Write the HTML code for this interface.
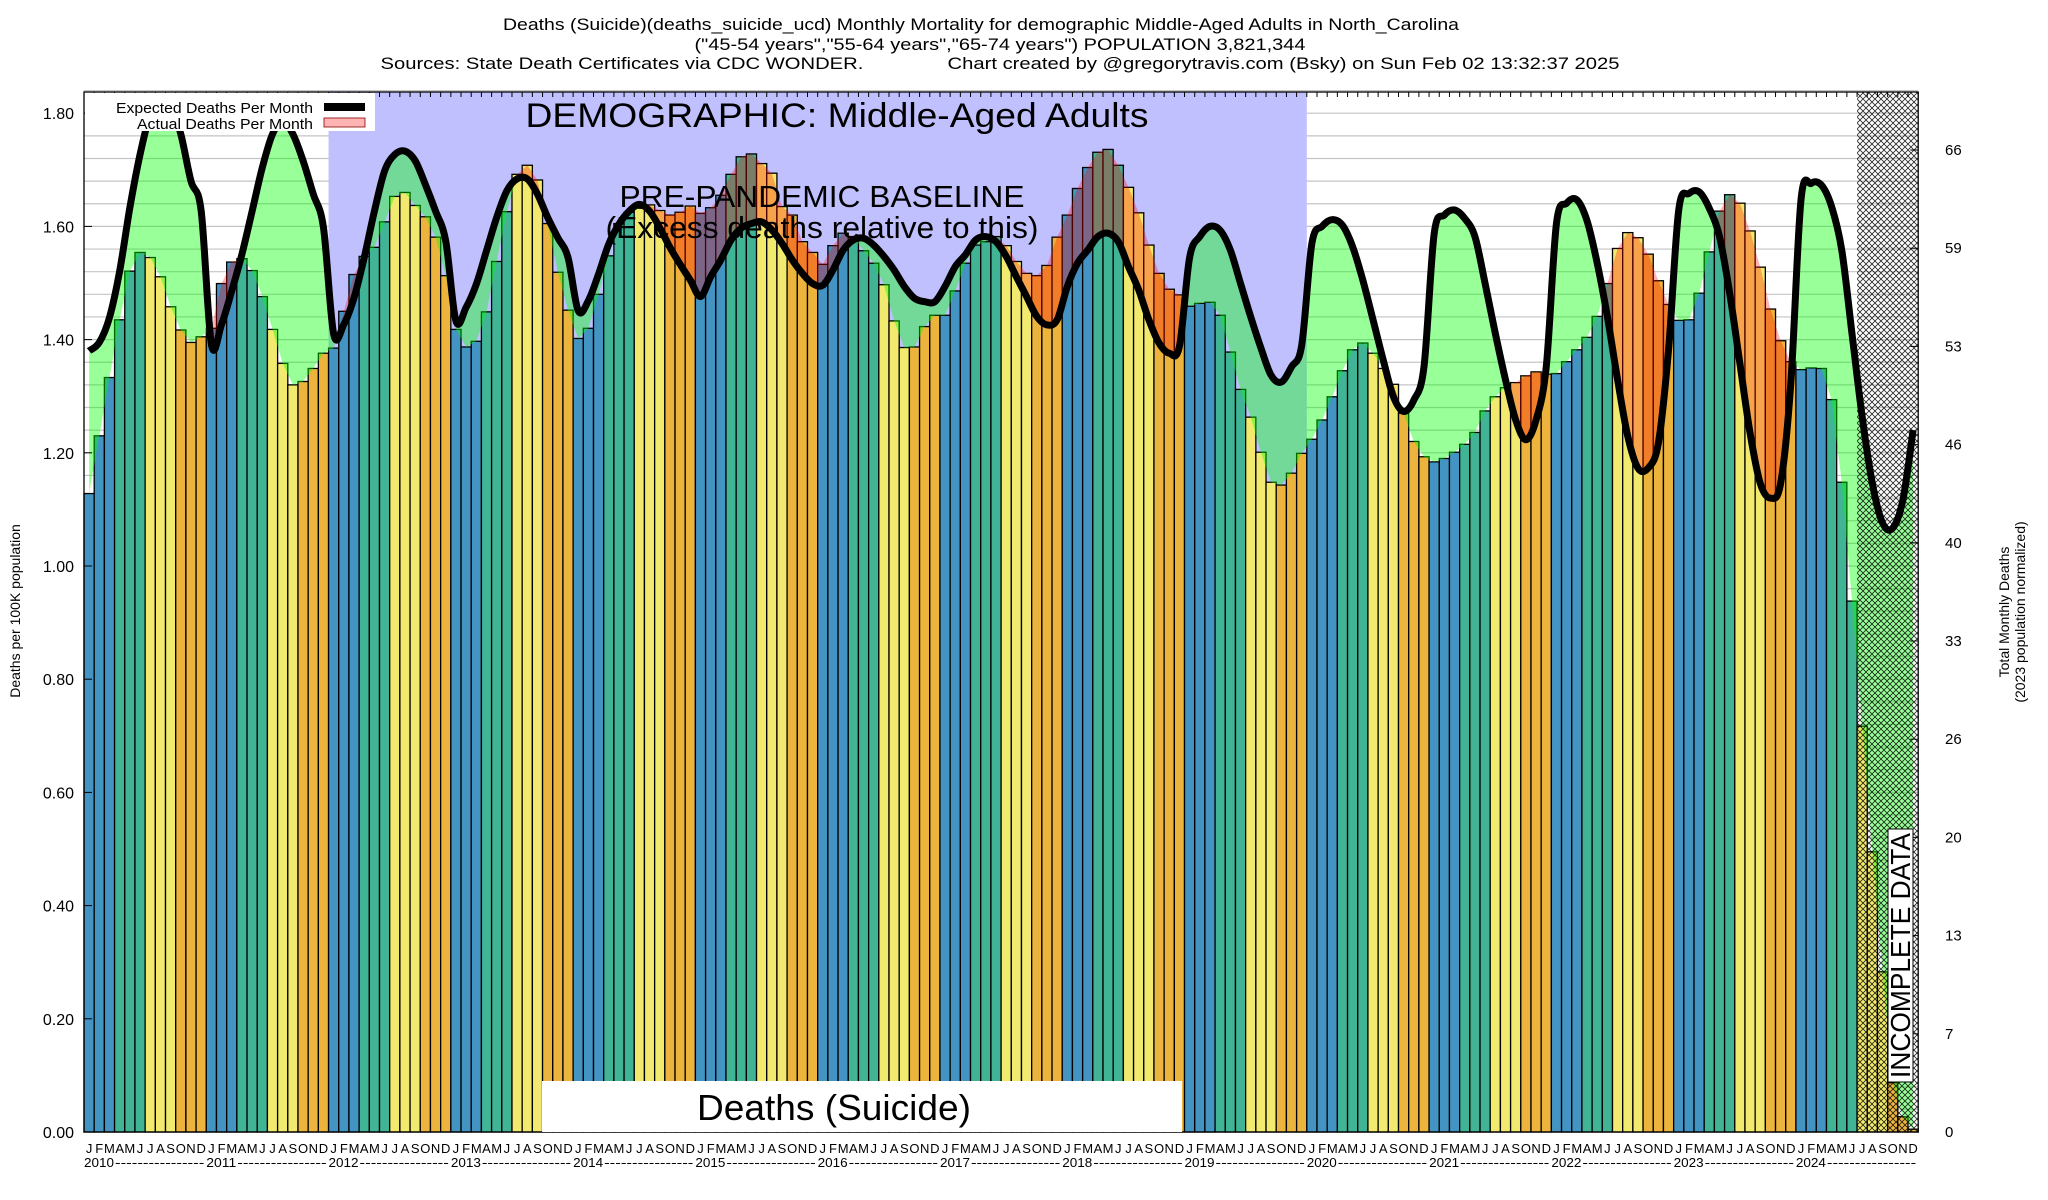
<!DOCTYPE html>
<html><head><meta charset="utf-8">
<style>
html,body{margin:0;padding:0;background:#fff;}
svg{display:block;font-family:"Liberation Sans",sans-serif;}
</style></head>
<body>
<svg id="chart" xmlns="http://www.w3.org/2000/svg" width="2048" height="1200" viewBox="0 0 2048 1200">
<defs>
<pattern id="hatch" patternUnits="userSpaceOnUse" width="6" height="6">
<path d="M0,0 L6,6 M6,0 L0,6" stroke="#000" stroke-width="0.8" fill="none" stroke-opacity="0.85"/>
</pattern>
</defs>
<rect width="2048" height="1200" fill="#fff"/>
<g id="titles" font-size="17" text-anchor="middle">
<text x="981" y="30" textLength="956" lengthAdjust="spacingAndGlyphs">Deaths (Suicide)(deaths_suicide_ucd) Monthly Mortality for demographic Middle-Aged Adults in North_Carolina</text>
<text x="1000" y="50" textLength="611" lengthAdjust="spacingAndGlyphs">("45-54 years","55-64 years","65-74 years") POPULATION 3,821,344</text>
<text x="1000" y="69" textLength="1239" lengthAdjust="spacingAndGlyphs" xml:space="preserve">Sources: State Death Certificates via CDC WONDER.               Chart created by @gregorytravis.com (Bsky) on Sun Feb 02 13:32:37 2025</text>
</g>
<g id="grid"></g>
<rect id="baseline-bg" fill="#c0c0ff"/>
<g id="bars"></g>
<g id="fills"></g>
<path id="expected" fill="none" stroke="#000" stroke-width="7" stroke-linejoin="round"/>
<rect id="hatchrect" fill="url(#hatch)"/>
<g id="axes"></g>
<g>
<rect x="85" y="93" width="290" height="38" fill="#fff"/>
<text x="313" y="113" font-size="15" text-anchor="end" textLength="197" lengthAdjust="spacingAndGlyphs">Expected Deaths Per Month</text>
<rect x="324" y="103" width="41" height="8" fill="#000"/>
<text x="313" y="129" font-size="15" text-anchor="end" textLength="176" lengthAdjust="spacingAndGlyphs">Actual Deaths Per Month</text>
<rect x="324" y="118" width="41" height="9" fill="#ffb3b3" stroke="#800" stroke-width="0.8"/>
</g>
<text x="837" y="127" font-size="34" text-anchor="middle" textLength="623" lengthAdjust="spacingAndGlyphs">DEMOGRAPHIC: Middle-Aged Adults</text>
<text x="822" y="207" font-size="31" text-anchor="middle" textLength="405" lengthAdjust="spacingAndGlyphs">PRE-PANDEMIC BASELINE</text>
<text x="822" y="238" font-size="31" text-anchor="middle" textLength="433" lengthAdjust="spacingAndGlyphs">(Excess deaths relative to this)</text>
<rect x="542" y="1081" width="640" height="51" fill="#fff"/>
<text x="834" y="1120" font-size="36" text-anchor="middle" textLength="274" lengthAdjust="spacingAndGlyphs">Deaths (Suicide)</text>
<rect x="1888" y="829" width="25" height="253" fill="#fff" stroke="#000" stroke-width="1"/>
<text transform="translate(1910,1078) rotate(-90)" font-size="28" textLength="245" lengthAdjust="spacingAndGlyphs">INCOMPLETE DATA</text>
<text transform="translate(20,611) rotate(-90)" font-size="14" text-anchor="middle">Deaths per 100K population</text>
<text transform="translate(2009,612) rotate(-90)" font-size="14" text-anchor="middle">Total Monthly Deaths</text>
<text transform="translate(2025,612) rotate(-90)" font-size="14" text-anchor="middle">(2023 population normalized)</text>
</svg>
<script>
const years = ['2010','2011','2012','2013','2014','2015','2016','2017','2018','2019','2020','2021','2022','2023','2024'];
const monthLetters = ['J','F','M','A','M','J','J','A','S','O','N','D'];
const actual = [
1.128,1.230,1.333,1.435,1.521,1.554,1.545,1.511,1.458,1.417,1.395,1.405,
1.420,1.499,1.537,1.543,1.522,1.476,1.418,1.358,1.320,1.326,1.349,1.376,
1.385,1.450,1.515,1.547,1.563,1.608,1.653,1.660,1.637,1.617,1.581,1.513,
1.418,1.387,1.397,1.449,1.538,1.626,1.692,1.708,1.682,1.605,1.519,1.452,
1.402,1.420,1.480,1.548,1.605,1.625,1.632,1.638,1.628,1.620,1.625,1.636,
1.623,1.633,1.655,1.692,1.723,1.728,1.711,1.694,1.635,1.620,1.573,1.554,
1.533,1.566,1.588,1.582,1.557,1.535,1.497,1.433,1.386,1.387,1.423,1.443,
1.443,1.486,1.535,1.567,1.573,1.582,1.566,1.538,1.517,1.513,1.531,1.581,
1.620,1.667,1.704,1.731,1.736,1.708,1.669,1.624,1.567,1.517,1.489,1.479,
1.459,1.464,1.466,1.443,1.378,1.312,1.263,1.201,1.148,1.143,1.164,1.199,
1.224,1.258,1.299,1.345,1.382,1.394,1.376,1.349,1.321,1.270,1.220,1.193,
1.184,1.190,1.201,1.215,1.236,1.274,1.299,1.315,1.324,1.336,1.343,1.339,
1.340,1.361,1.382,1.404,1.441,1.499,1.561,1.589,1.580,1.551,1.504,1.462,
1.434,1.435,1.482,1.555,1.627,1.656,1.641,1.592,1.528,1.454,1.398,1.361,
1.347,1.350,1.349,1.294,1.148,0.938,0.717,0.495,0.283,0.087,0.027,0.005];
const expected = [
1.380,1.395,1.439,1.521,1.633,1.727,1.798,1.827,1.815,1.763,1.680,1.627,
1.392,1.427,1.486,1.551,1.627,1.704,1.763,1.786,1.763,1.716,1.657,1.598,
1.410,1.427,1.474,1.545,1.627,1.698,1.727,1.733,1.716,1.674,1.627,1.574,
1.433,1.457,1.498,1.557,1.616,1.663,1.684,1.684,1.657,1.616,1.580,1.545,
1.451,1.469,1.516,1.569,1.604,1.627,1.639,1.627,1.598,1.563,1.533,1.505,
1.476,1.511,1.541,1.576,1.597,1.605,1.608,1.594,1.570,1.541,1.517,1.499,
1.496,1.523,1.558,1.576,1.579,1.567,1.547,1.523,1.494,1.473,1.467,1.467,
1.494,1.529,1.550,1.576,1.582,1.573,1.547,1.511,1.476,1.441,1.426,1.435,
1.494,1.535,1.558,1.582,1.588,1.573,1.529,1.488,1.435,1.394,1.376,1.388,
1.545,1.582,1.600,1.593,1.558,1.499,1.440,1.385,1.337,1.325,1.352,1.390,
1.570,1.600,1.612,1.602,1.564,1.505,1.435,1.364,1.299,1.273,1.293,1.352,
1.587,1.620,1.629,1.614,1.582,1.499,1.411,1.329,1.258,1.223,1.258,1.352,
1.605,1.641,1.647,1.610,1.535,1.440,1.329,1.229,1.173,1.173,1.217,1.382,
1.629,1.658,1.661,1.632,1.582,1.482,1.358,1.235,1.146,1.120,1.146,1.323,
1.647,1.676,1.673,1.635,1.558,1.411,1.264,1.146,1.076,1.067,1.117,1.240];
const yTicks = [0,0.2,0.4,0.6,0.8,1.0,1.2,1.4,1.6,1.8];
const y2Ticks = ['0','7','13','20','26','33','40','46','53','59','66'];
const baselineStartMonth = 24, baselineEndMonth = 120, incompleteStartMonth = 174;

const NS='http://www.w3.org/2000/svg';
const X0=84, MW=10.19, TOP=92, BOT=1132, PX_PER=566;
const N=actual.length;
const XR=X0+N*MW;
const xL=i=>X0+i*MW;
const xC=i=>X0+(i+0.5)*MW;
const yV=v=>BOT-v*PX_PER;
function mk(tag,attrs,parent){const e=document.createElementNS(NS,tag);for(const k in attrs)e.setAttribute(k,attrs[k]);parent.appendChild(e);return e;}
const colors=['#4393c3','#41b496','#f2ea6e','#ecb43c'];

const grid=document.getElementById('grid');
for(let k=1;k*0.04<=1.84;k++){
  const y=yV(k*0.04);
  const l=mk('line',{x1:X0,x2:XR,y1:y,y2:y,stroke:'#c4c4c4','stroke-width':1.2},grid);
  
  
}
const bg=document.getElementById('baseline-bg');
bg.setAttribute('x',xL(baselineStartMonth));bg.setAttribute('y',TOP);
bg.setAttribute('width',xL(baselineEndMonth)-xL(baselineStartMonth));bg.setAttribute('height',BOT-TOP);

const barsG=document.getElementById('bars');
for(let i=0;i<N;i++){
  const y=yV(actual[i]);
  const r=mk('rect',{x:xL(i),y:y,width:MW,height:BOT-y,fill:colors[Math.floor((i%12)/3)],stroke:'#000','stroke-width':1.3},barsG);
  
  
}

const pts=expected.map((v,i)=>[xC(i),yV(v)]);
let d='M'+pts[0][0]+','+pts[0][1];
for(let i=0;i<pts.length-1;i++){
  const p0=pts[i-1]||pts[i],p1=pts[i],p2=pts[i+1],p3=pts[i+2]||pts[i+1];
  const c1=[p1[0]+(p2[0]-p0[0])/6,p1[1]+(p2[1]-p0[1])/6];
  const c2=[p2[0]-(p3[0]-p1[0])/6,p2[1]-(p3[1]-p1[1])/6];
  d+=' C'+c1[0].toFixed(2)+','+c1[1].toFixed(2)+' '+c2[0].toFixed(2)+','+c2[1].toFixed(2)+' '+p2[0].toFixed(2)+','+p2[1].toFixed(2);
}
document.getElementById('expected').setAttribute('d',d);
const xa=xC(0), xb=xC(N-1);
let act='';
actual.forEach((v,i)=>{act+=(i?' L':'M')+xC(i).toFixed(2)+','+yV(v).toFixed(2);});
const defs=document.querySelector('defs');
const cpA=mk('clipPath',{id:'aboveActual'},defs);
mk('path',{d:act+' L'+xb+','+(TOP-20)+' L'+xa+','+(TOP-20)+' Z'},cpA);
const cpE=mk('clipPath',{id:'aboveExpected'},defs);
mk('path',{d:d+' L'+xb+','+(TOP-20)+' L'+xa+','+(TOP-20)+' Z'},cpE);
const fills=document.getElementById('fills');
const g1=mk('path',{d:d+' L'+xb+','+BOT+' L'+xa+','+BOT+' Z',fill:'rgba(0,255,0,0.4)','clip-path':'url(#aboveActual)'},fills);


const r1=mk('path',{d:act+' L'+xb+','+BOT+' L'+xa+','+BOT+' Z',fill:'rgba(255,0,0,0.3)','clip-path':'url(#aboveExpected)'},fills);



const h=document.getElementById('hatchrect');
h.setAttribute('x',xL(incompleteStartMonth));h.setAttribute('y',TOP);
h.setAttribute('width',XR-xL(incompleteStartMonth));h.setAttribute('height',BOT-TOP);

const ax=document.getElementById('axes');
const frame=mk('rect',{x:X0,y:TOP,width:XR-X0,height:BOT-TOP,fill:'none',stroke:'#000','stroke-width':1.3},ax);


for(let i=0;i<=N;i++){mk('line',{x1:xL(i),x2:xL(i),y1:TOP,y2:TOP+5,stroke:'#000','stroke-width':1},ax);}
yTicks.forEach(v=>{
  const t=mk('text',{x:74,y:yV(v)+6,'font-size':16,'text-anchor':'end'},ax);
  t.textContent=v.toFixed(2);
  
  
  mk('line',{x1:X0,x2:X0+8,y1:yV(v),y2:yV(v),stroke:'#000'},ax);
});
y2Ticks.forEach((s,k)=>{
  const y=BOT-k*98.2;
  const t=mk('text',{x:1945,y:y+5,'font-size':15},ax);
  t.textContent=s;
  
  
  mk('line',{x1:XR-8,x2:XR,y1:y,y2:y,stroke:'#000'},ax);
});
for(let i=0;i<N;i++){
  const t=mk('text',{x:xC(i),y:1153,'font-size':13,'text-anchor':'middle'},ax);
  t.textContent=monthLetters[i%12];
  
  
}
years.forEach((yr,k)=>{
  const x=xL(k*12);
  const t=mk('text',{x:x,y:1167,'font-size':13,textLength:30,lengthAdjust:'spacingAndGlyphs'},ax);
  t.textContent=yr;
  
  
  const dsh=mk('text',{x:x+31,y:1167,'font-size':13,textLength:12*MW-33,lengthAdjust:'spacingAndGlyphs'},ax);
  dsh.textContent='----------------';
  
  
});
</script>
</body></html>
